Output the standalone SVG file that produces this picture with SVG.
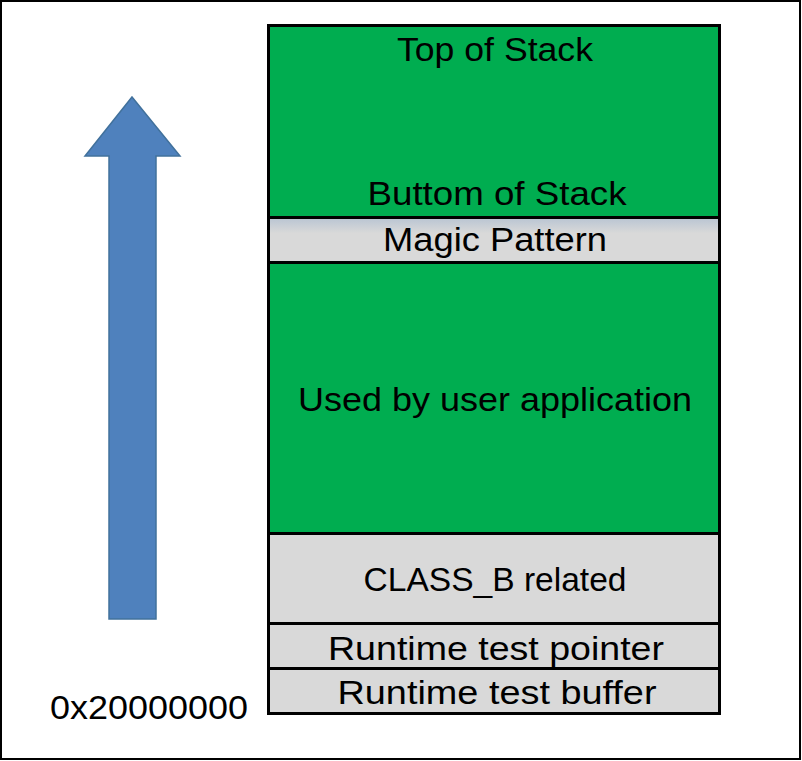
<svg xmlns="http://www.w3.org/2000/svg" width="802" height="761" viewBox="0 0 802 761">
<defs>
<style>
.t{font-family:"Liberation Sans","Open Sans",sans-serif;font-size:33px;fill:#000;text-anchor:middle}
.g{fill:#00ad50;stroke:#000;stroke-width:3}
.s{fill:#d9d9d9;stroke:#000;stroke-width:3}
</style>
<linearGradient id="mg" x1="0" y1="0" x2="0" y2="1">
<stop offset="0" stop-color="#b8c4d2"/>
<stop offset="0.35" stop-color="#d9d9d9"/>
<stop offset="1" stop-color="#d9d9d9"/>
</linearGradient>
</defs>
<rect x="1" y="1" width="799" height="758" fill="#fff" stroke="#000" stroke-width="2"/>
<g id="arrow">
<polygon points="132,97 180,156 156,156 156,619 109,619 109,156 85,156" fill="#4f81bd" stroke="#41719c" stroke-width="1.5"/>
</g>
<g id="stack">
<g id="top"><rect class="g" x="268.5" y="25.5" width="451" height="192"/>
<text class="t" x="495" y="61" textLength="196" lengthAdjust="spacingAndGlyphs">Top of Stack</text>
<text class="t" x="497" y="205" textLength="259" lengthAdjust="spacingAndGlyphs">Buttom of Stack</text></g>
<g id="magic"><rect x="268.5" y="217.5" width="451" height="45" fill="url(#mg)" stroke="#000" stroke-width="3"/>
<text class="t" x="495" y="251" textLength="224" lengthAdjust="spacingAndGlyphs">Magic Pattern</text></g>
<g id="user"><rect class="g" x="268.5" y="262.5" width="451" height="271"/>
<text class="t" x="495" y="411" textLength="394" lengthAdjust="spacingAndGlyphs">Used by user application</text></g>
<g id="classb"><rect class="s" x="268.5" y="533.5" width="451" height="90"/>
<text class="t" x="495" y="591" textLength="263" lengthAdjust="spacingAndGlyphs">CLASS_B related</text></g>
<g id="pointer"><rect class="s" x="268.5" y="623.5" width="451" height="45"/>
<text class="t" x="496" y="660" textLength="336" lengthAdjust="spacingAndGlyphs">Runtime test pointer</text></g>
<g id="buffer"><rect class="s" x="268.5" y="668.5" width="451" height="45"/>
<text class="t" x="497" y="704" textLength="319" lengthAdjust="spacingAndGlyphs">Runtime test buffer</text></g>
</g>
<g id="addr"><text class="t" x="149" y="719" textLength="198" lengthAdjust="spacingAndGlyphs">0x20000000</text></g>
</svg>
